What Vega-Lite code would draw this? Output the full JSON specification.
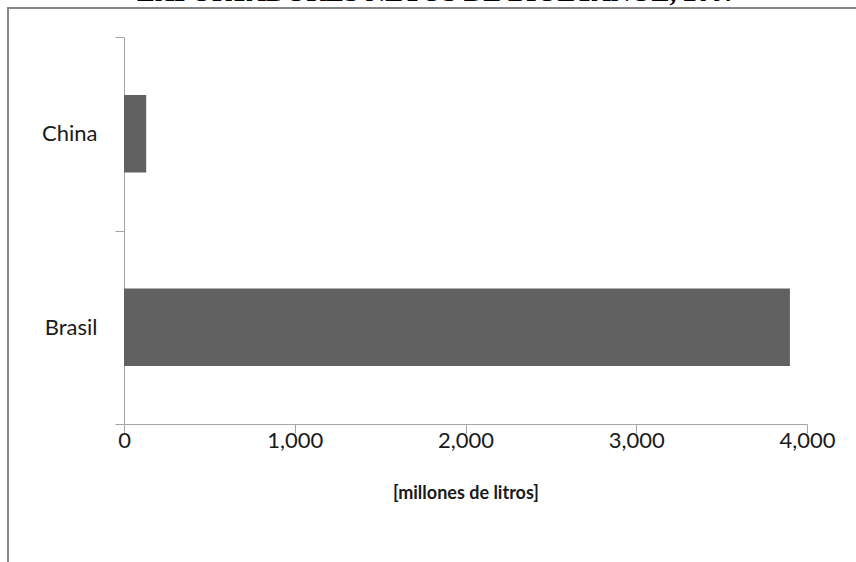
{
  "$schema": "https://vega.github.io/schema/vega-lite/v6.json",
  "width": 848,
  "height": 554,
  "autosize": {"type": "none"},
  "padding": {"left": 8, "top": 8, "right": 0, "bottom": 0},
  "background": "white",
  "title": {
    "text": "EXPORTADORES NETOS DE BIOETANOL, 2007",
    "font": "Liberation Serif",
    "fontSize": 27,
    "fontWeight": "bold",
    "color": "#000000",
    "anchor": "middle",
    "frame": "group",
    "orient": "top",
    "baseline": "top",
    "offset": -10,
    "dx": 5
  },
  "config": {
    "view": {"stroke": "#878787", "strokeWidth": 2, "strokeDash": [848, 1402, 554]},
    "axis": {
      "domainColor": "#a6a6a6",
      "tickColor": "#a6a6a6",
      "grid": false,
      "labelFont": "Lato",
      "labelFontSize": 22,
      "labelColor": "#1a1a1a",
      "titleFont": "Lato",
      "titleColor": "#1a1a1a"
    }
  },
  "data": {
    "values": [
      {"pais": "China", "litros": 130},
      {"pais": "Brasil", "litros": 3900}
    ]
  },
  "mark": {"type": "bar", "color": "#616161", "height": {"band": 0.4}},
  "encoding": {
    "y": {
      "field": "pais",
      "type": "nominal",
      "sort": ["China", "Brasil"],
      "scale": {"range": [29, 416], "paddingInner": 0, "paddingOuter": 0},
      "axis": {
        "title": null,
        "orient": "left",
        "offset": -116,
        "tickBand": "extent",
        "tickSize": 9,
        "labelPadding": 18
      }
    },
    "x": {
      "field": "litros",
      "type": "quantitative",
      "scale": {"domain": [0, 4000], "range": [116, 799], "nice": false},
      "axis": {
        "orient": "bottom",
        "offset": -138,
        "values": [0, 1000, 2000, 3000, 4000],
        "format": ",.0f",
        "labelFlush": false,
        "tickSize": 9,
        "labelPadding": -3,
        "title": "[millones de litros]",
        "titleFontSize": 18,
        "titleFontWeight": "bold",
        "titlePadding": 33
      }
    }
  }
}
